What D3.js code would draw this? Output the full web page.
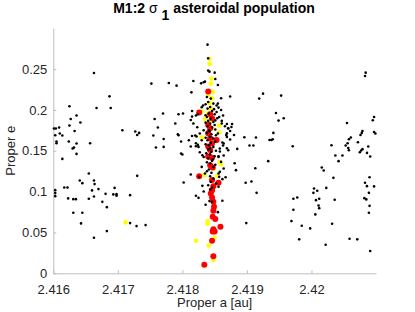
<!DOCTYPE html>
<html>
<head>
<meta charset="UTF-8">
<title>M1:2 sigma1 asteroidal population</title>
<script src="https://cdn.jsdelivr.net/npm/d3@7"></script>
<style>
    body { margin: 0; background: #fff; }
    svg { display: block; font-family: "Liberation Sans", Arial, Helvetica, sans-serif; }
</style>
</head>
<body>
<div id="chart"></div>
<script>
    // proper a [au], proper e  -- background asteroids (black)
    const blackPoints = [
        [2.41663,0.2452],[2.41752,0.2323],[2.41687,0.2167],[2.41625,0.2045],[2.41667,0.2024],[2.41689,0.2024],
        [2.41770,0.1956],[2.41636,0.1932],[2.41627,0.1890],[2.41757,0.1890],[2.41642,0.1846],[2.41625,0.1809],
        [2.41762,0.1785],[2.41609,0.1785],[2.41604,0.1773],[2.41601,0.1773],[2.41707,0.1752],[2.41633,0.1743],
        [2.41727,0.1736],[2.41733,0.1719],[2.41730,0.1694],[2.41610,0.1711],[2.41614,0.1687],[2.41603,0.1691],
        [2.41755,0.1687],[2.41624,0.1614],[2.41605,0.1614],[2.41605,0.1593],[2.41636,0.1589],[2.41657,0.1593],
        [2.41771,0.1645],[2.41632,0.1540],[2.41630,0.1528],[2.41759,0.1540],[2.41771,0.1548],[2.41636,0.1462],
        [2.41614,0.1401],[2.41655,0.1222],[2.41730,0.1193],[2.41641,0.1137],[2.41663,0.1137],[2.41645,0.1104],
        [2.41664,0.1092],[2.41617,0.1051],[2.41622,0.1051],[2.41695,0.1046],[2.41670,0.1031],[2.41660,0.1015],
        [2.41603,0.1018],[2.41603,0.0982],[2.41603,0.0945],[2.41681,0.0973],[2.41693,0.0966],[2.41698,0.0969],
        [2.41698,0.0949],[2.41719,0.0957],[2.41663,0.0941],[2.41623,0.0917],[2.41631,0.0908],[2.41635,0.0908],
        [2.41655,0.0912],[2.41676,0.0875],[2.41683,0.0810],[2.41631,0.0741],[2.41645,0.0741],[2.41719,0.0615],
        [2.41743,0.0590],[2.41729,0.0578],[2.41643,0.0611],[2.41683,0.0517],[2.41663,0.0435],
        // around the resonance
        [2.41839,0.2800],[2.41840,0.2632],[2.41840,0.2482],[2.41842,0.2469],[2.41850,0.2457],[2.41851,0.2379],
        [2.41817,0.2354],[2.41833,0.2339],[2.41835,0.2347],[2.41829,0.2326],[2.41779,0.2330],[2.41791,0.2298],
        [2.41855,0.2306],[2.41814,0.2216],[2.41874,0.2164],[2.41860,0.2143],[2.41855,0.2078],[2.41853,0.2054],
        [2.41856,0.2029],[2.41832,0.2054],[2.41830,0.2033],[2.41815,0.1988],[2.41860,0.2000],[2.41801,0.1956],
        [2.41794,0.1947],[2.41815,0.1919],[2.41821,0.1932],[2.41824,0.1947],[2.41863,0.1932],[2.41854,0.1898],
        [2.41789,0.1834],[2.41813,0.1878],[2.41817,0.1834],[2.41869,0.1829],[2.41861,0.1866],[2.41877,0.1829],
        [2.41876,0.1792],[2.41871,0.1776],[2.41823,0.1789],[2.41874,0.1743],[2.41869,0.1715],[2.41868,0.1694],
        [2.41880,0.1694],[2.41896,0.1666],[2.41914,0.1663],[2.41793,0.1703],[2.41794,0.1691],[2.41815,0.1682],
        [2.41820,0.1687],[2.41822,0.1675],[2.41810,0.1630],[2.41821,0.1593],[2.41798,0.1614],[2.41813,0.1553],
        [2.41821,0.1556],[2.41824,0.1572],[2.41862,0.1601],[2.41863,0.1565],[2.41869,0.1532],[2.41885,0.1523],
        [2.41904,0.1565],[2.41910,0.1565],[2.41798,0.1467],[2.41800,0.1455],[2.41827,0.1483],[2.41831,0.1446],
        [2.41856,0.1434],[2.41858,0.1491],[2.41864,0.1443],[2.41871,0.1507],[2.41881,0.1348],[2.41913,0.1287],
        [2.41883,0.1263],[2.41813,0.1210],[2.41856,0.1222],[2.41857,0.1181],[2.41867,0.1177],[2.41862,0.1153],
        [2.41802,0.1112],[2.41831,0.1071],[2.41898,0.1108],[2.41907,0.1125],[2.41915,0.0985],[2.41833,0.1002],
        [2.41821,0.0949],[2.41825,0.0924],[2.41842,0.0884],[2.41846,0.0875],[2.41862,0.0888],[2.41836,0.0839],
        [2.41855,0.0749],[2.41899,0.0615],
        // dense column
        [2.41838,0.2159],[2.41844,0.2139],[2.41840,0.2098],[2.41848,0.2078],[2.41843,0.2037],[2.41839,0.2017],
        [2.41846,0.1988],[2.41841,0.1956],[2.41850,0.1947],[2.41838,0.1914],[2.41844,0.1895],[2.41840,0.1866],
        [2.41848,0.1853],[2.41843,0.1834],[2.41839,0.1801],[2.41846,0.1785],[2.41851,0.1760],[2.41841,0.1752],
        [2.41838,0.1719],[2.41845,0.1703],[2.41843,0.1670],[2.41848,0.1650],[2.41839,0.1630],[2.41844,0.1597],
        [2.41841,0.1568],[2.41848,0.1548],[2.41840,0.1516],[2.41845,0.1487],[2.41843,0.1458],[2.41850,0.1434],
        [2.41840,0.1406],[2.41846,0.1377],[2.41843,0.1345],[2.41848,0.1303],[2.41841,0.1271],[2.41845,0.1230],
        [2.41843,0.1189],[2.41848,0.1161],[2.41844,0.1120],[2.41840,0.1079],[2.41846,0.1051],[2.41843,0.1027],
        [2.41853,0.1976],[2.41857,0.1914],[2.41861,0.1834],[2.41866,0.1801],[2.41871,0.1773],[2.41855,0.1711],
        [2.41869,0.1670],[2.41874,0.1638],[2.41864,0.1589],[2.41858,0.1528],[2.41856,0.1425],[2.41860,0.1364],
        [2.41864,0.1284],[2.41858,0.1242],[2.41833,0.1752],[2.41827,0.1711],[2.41830,0.1630],[2.41825,0.1548],
        [2.41833,0.1425],[2.41830,0.1303],[2.41835,0.1222],[2.41826,0.1181],[2.41852,0.1100],[2.41856,0.1059],
        [2.41836,0.2070],[2.41849,0.2010],[2.41836,0.1935],[2.41851,0.1872],[2.41836,0.1845],[2.41850,0.1815],
        [2.41842,0.1738],[2.41852,0.1690],[2.41836,0.1660],[2.41851,0.1612],[2.41836,0.1580],[2.41843,0.1530],
        [2.41852,0.1500],[2.41837,0.1470],[2.41847,0.1395],[2.41838,0.1360],[2.41851,0.1330],[2.41838,0.1250],
        // right side
        [2.42084,0.2457],[2.42083,0.2416],[2.41925,0.2200],[2.41919,0.2139],[2.41953,0.2176],[2.41945,0.1963],
        [2.41957,0.1898],[2.41949,0.1870],[2.42097,0.1914],[2.42095,0.1874],[2.42055,0.1841],[2.41941,0.1719],
        [2.42079,0.1743],[2.42078,0.1719],[2.42076,0.1694],[2.42097,0.1731],[2.42099,0.1711],[2.41935,0.1633],
        [2.41938,0.1633],[2.41940,0.1642],[2.42061,0.1663],[2.42058,0.1642],[2.42072,0.1605],[2.42056,0.1593],
        [2.42031,0.1568],[2.42053,0.1565],[2.41971,0.1556],[2.42057,0.1535],[2.42058,0.1507],[2.42079,0.1520],
        [2.42077,0.1504],[2.42075,0.1483],[2.42088,0.1553],[2.42086,0.1474],[2.42091,0.1430],[2.42037,0.1443],
        [2.42048,0.1443],[2.41933,0.1373],[2.42042,0.1373],[2.42016,0.1296],[2.42019,0.1259],[2.42034,0.1169],
        [2.42090,0.1177],[2.42083,0.1108],[2.42086,0.1067],[2.42097,0.1064],[2.42004,0.1039],[2.42009,0.1010],
        [2.42003,0.0985],[2.42023,0.1046],[2.42089,0.0985],[2.41978,0.0929],[2.41972,0.0912],[2.42012,0.0912],
        [2.42007,0.0896],[2.42036,0.0900],[2.42082,0.0920],[2.42085,0.0905],[2.42090,0.0826],[2.42011,0.0831],
        [2.42012,0.0798],[2.41972,0.0778],[2.42089,0.0741],[2.42006,0.0721],[2.41969,0.0639],[2.41985,0.0582],
        [2.41998,0.0550],[2.42032,0.0606],[2.41981,0.0416],[2.42059,0.0423],[2.42071,0.0416],[2.42022,0.0350],
        [2.42091,0.0273]
    ];

    const yellowPoints = [
        [2.41842,0.2628],[2.41842,0.2565],[2.41845,0.2384],[2.41844,0.2323],[2.41847,0.2222],[2.41840,0.2183],
        [2.41846,0.2143],[2.41842,0.2082],[2.41844,0.2021],[2.41830,0.1980],[2.41840,0.1960],[2.41835,0.1890],
        [2.41843,0.1858],[2.41857,0.1809],[2.41846,0.1776],[2.41857,0.1724],[2.41830,0.1666],[2.41858,0.1361],
        [2.41860,0.1333],[2.41849,0.1284],[2.41834,0.1202],[2.41854,0.1193],[2.41839,0.0636],[2.41839,0.0606],
        [2.41850,0.0438],[2.41821,0.0399],[2.41841,0.0340],[2.41848,0.0163],[2.41712,0.0623]
    ];

    const redPoints = [
        [2.41840,0.2225],[2.41826,0.1968],[2.41843,0.1947],[2.41846,0.1898],[2.41840,0.1817],[2.41843,0.1776],
        [2.41840,0.1715],[2.41843,0.1654],[2.41853,0.1633],[2.41846,0.1593],[2.41840,0.1553],[2.41843,0.1511],
        [2.41840,0.1430],[2.41846,0.1416],[2.41843,0.1324],[2.41847,0.1296],[2.41826,0.1189],[2.41846,0.1141],
        [2.41856,0.1108],[2.41848,0.1067],[2.41846,0.1018],[2.41844,0.0978],[2.41846,0.0929],[2.41848,0.0875],
        [2.41849,0.0814],[2.41848,0.0765],[2.41847,0.0692],[2.41851,0.0664],[2.41859,0.0570],[2.41848,0.0538],
        [2.41850,0.0513],[2.41847,0.0513],[2.41846,0.0399],[2.41848,0.0208],[2.41834,0.0105]
    ];

    const xTicks = [2.416, 2.417, 2.418, 2.419, 2.42];
    const yTicks = [0, 0.05, 0.1, 0.15, 0.2, 0.25];

    const svgWidth = 415, svgHeight = 312;
    const plotLeft = 53.3, plotRight = 376, plotTop = 28.3, plotBottom = 273.3;

    const svg = d3.select("#chart").append("svg")
        .attr("width", svgWidth)
        .attr("height", svgHeight);

    const xScale = d3.scaleLinear().domain([2.416, 2.421]).range([plotLeft, plotRight]);
    const yScale = d3.scaleLinear().domain([0, 0.3]).range([plotBottom, plotTop]);

    const axisColor = "#bdbdbd";
    const textColor = "#262626";

    // axes, ticks pointing inward like matlab
    const xAxis = svg.append("g")
        .attr("transform", "translate(0," + plotBottom + ")")
        .call(d3.axisBottom(xScale).tickValues(xTicks).tickFormat(d => String(d))
            .tickSizeInner(-3).tickSizeOuter(0).tickPadding(11));
    const yAxis = svg.append("g")
        .attr("transform", "translate(" + plotLeft + ",0)")
        .call(d3.axisLeft(yScale).tickValues(yTicks).tickFormat(d => String(d))
            .tickSizeInner(-3).tickSizeOuter(0).tickPadding(6));

    [xAxis, yAxis].forEach(g => {
        g.select(".domain").attr("stroke", axisColor);
        g.selectAll(".tick line").attr("stroke", axisColor);
        g.selectAll(".tick text").attr("fill", textColor).style("font-size", "13px")
            .style("font-family", "'Liberation Sans', Arial, sans-serif");
    });

    // points: yellow, then red, black on top
    svg.append("g").selectAll("circle")
        .data(yellowPoints).enter().append("circle")
        .attr("cx", d => xScale(d[0])).attr("cy", d => yScale(d[1]))
        .attr("r", 2.3).attr("fill", "#ffff00");

    svg.append("g").selectAll("circle")
        .data(redPoints).enter().append("circle")
        .attr("cx", d => xScale(d[0])).attr("cy", d => yScale(d[1]))
        .attr("r", 3).attr("fill", "#ff0000");

    svg.append("g").selectAll("circle")
        .data(blackPoints).enter().append("circle")
        .attr("cx", d => xScale(d[0])).attr("cy", d => yScale(d[1]))
        .attr("r", 1.3).attr("fill", "#000");

    // labels
    svg.append("text")
        .attr("x", (plotLeft + plotRight) / 2).attr("y", 307)
        .attr("text-anchor", "middle").attr("fill", textColor)
        .style("font-size", "13px")
        .text("Proper a [au]");

    svg.append("text")
        .attr("transform", "translate(15," + ((plotTop + plotBottom) / 2) + ") rotate(-90)")
        .attr("text-anchor", "middle").attr("fill", textColor)
        .style("font-size", "13px")
        .text("Proper e");

    const title = svg.append("text")
        .attr("x", 214).attr("y", 13)
        .attr("text-anchor", "middle")
        .style("font-size", "14px").style("font-weight", "bold");
    title.append("tspan").text("M1:2 ");
    title.append("tspan").style("font-weight", "normal").text("σ");
    title.append("tspan").attr("dy", 7).text(" 1");
    title.append("tspan").attr("dy", -7).text(" asteroidal population");
</script>
</body>
</html>
